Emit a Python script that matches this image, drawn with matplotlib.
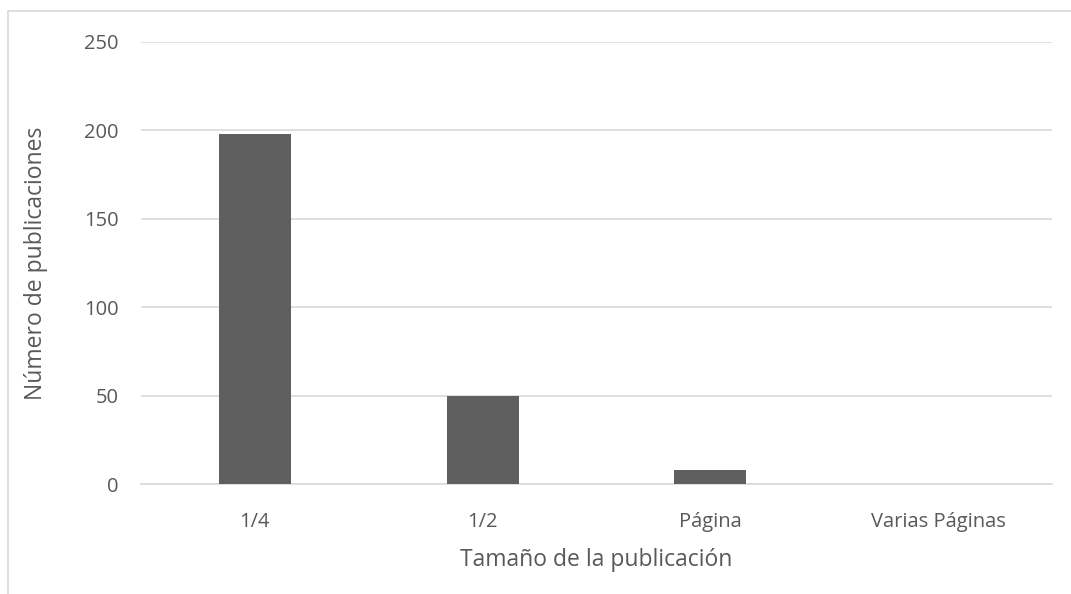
import matplotlib.pyplot as plt
from matplotlib.lines import Line2D

# datos
categorias = ["1/4", "1/2", "Página", "Varias Páginas"]
publicaciones = [198, 50, 8, 0]
ticks_y = [0, 50, 100, 150, 200, 250]

gris_txt = "#595959"
gris_barra = "#5f5f5f"
gris_grid = "#d9d9d9"

plt.rcParams['font.family'] = ['Open Sans', 'DejaVu Sans']

fig = plt.figure(figsize=(10.71, 5.94), dpi=100)
ax = fig.add_axes([141/1071, 1 - 484/594, (1052 - 141)/1071, (484 - 42)/594])

x = range(len(categorias))
ax.bar(x, publicaciones, width=0.316, color=gris_barra, zorder=3)

ax.set_xlim(-0.5, len(categorias) - 0.5)
ax.set_ylim(0, 250)
ax.set_yticks(ticks_y)
ax.set_xticks(list(x))
ax.set_xticklabels(categorias)

ax.grid(axis='y', color=gris_grid, linewidth=1.2, zorder=0)
for s in ['top', 'right', 'left']:
    ax.spines[s].set_visible(False)
ax.spines['bottom'].set_color(gris_grid)
ax.spines['bottom'].set_linewidth(1.2)

ax.tick_params(axis='both', length=0, labelsize=14.5, colors=gris_txt)
ax.tick_params(axis='y', pad=16)
ax.tick_params(axis='x', pad=20)

ax.set_xlabel("Tamaño de la publicación", fontsize=16.5, color=gris_txt, labelpad=12)
ax.set_ylabel("Número de publicaciones", fontsize=16.5, color=gris_txt, labelpad=26)

# marco del gráfico (recortado)
fig.add_artist(Line2D([8/1071, 1], [1 - 11/594, 1 - 11/594], color=gris_grid, linewidth=1.2))
fig.add_artist(Line2D([8/1071, 8/1071], [0, 1 - 11/594], color=gris_grid, linewidth=1.2))

fig.savefig("out.png", dpi=100)
